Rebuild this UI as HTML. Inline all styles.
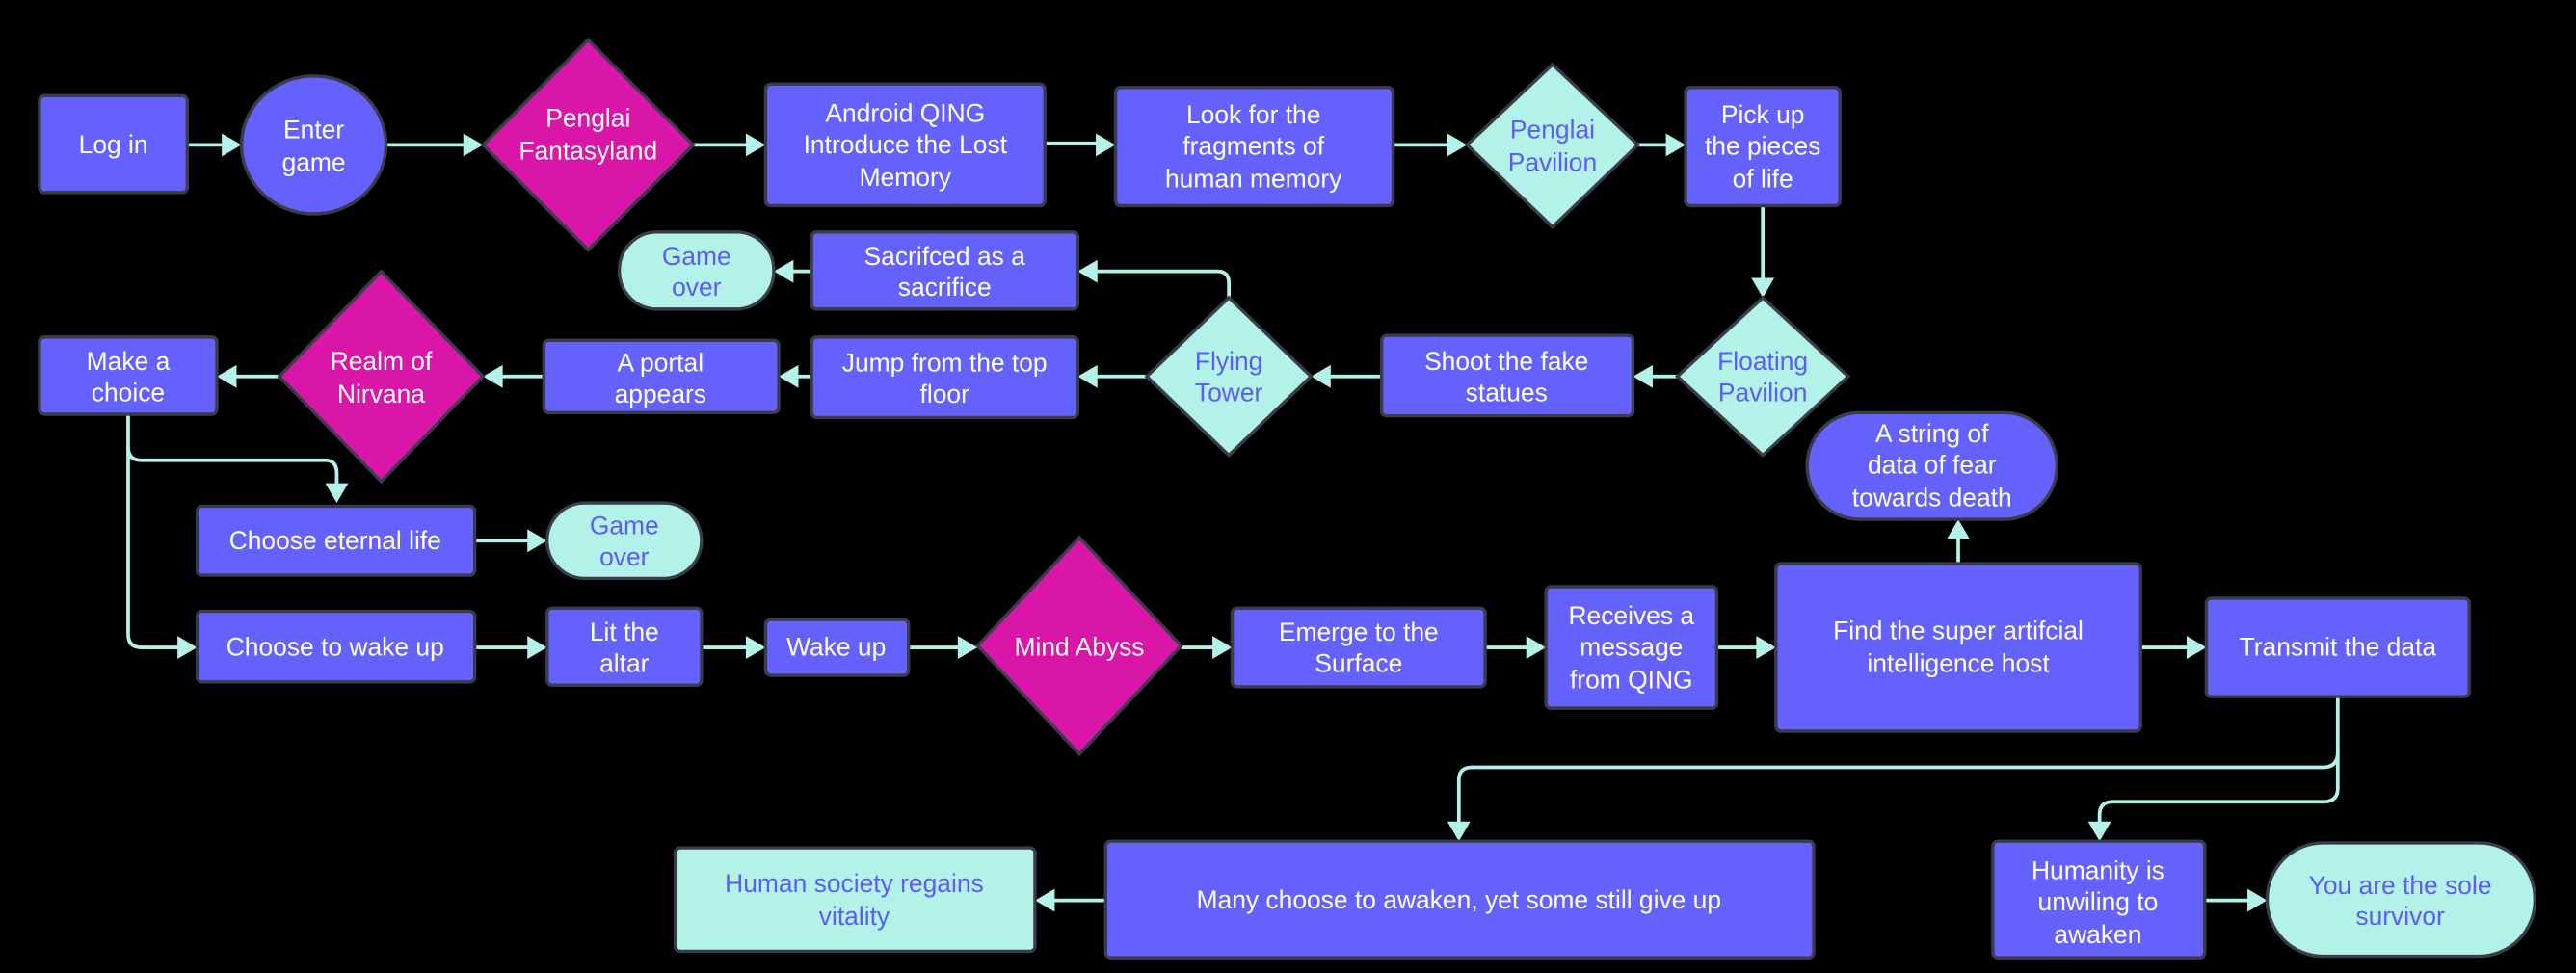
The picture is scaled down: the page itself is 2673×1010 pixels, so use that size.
<!DOCTYPE html>
<html><head><meta charset="utf-8"><style>
html,body{margin:0;padding:0;background:#000;width:2673px;height:1010px;overflow:hidden}
svg{display:block}
text{font-family:"Liberation Sans",sans-serif;font-size:15.5px;text-anchor:middle}
.w{fill:#fff}.b{fill:#5f5cf5}
.p{fill:#6461fc;stroke:#3a3c4a;stroke-width:2}
.m{fill:#d916a8;stroke:#3a3c4a;stroke-width:2}
.g{fill:#b3f2e8;stroke:#3a3c4a;stroke-width:2}
.e{stroke:#b3f2e8;stroke-width:2.2;fill:none}
.a{fill:#b3f2e8}
</style></head><body>
<svg width="2673" height="1010" viewBox="0 0 1568 592" xmlns="http://www.w3.org/2000/svg">
<rect width="1568" height="592" fill="#000"/>
<!-- edges -->
<g class="e">
<path d="M114,88H136"/><path d="M235,88H283"/><path d="M422,88H455"/><path d="M636,87H668"/>
<path d="M848,88H882"/><path d="M997,88H1015"/><path d="M1073,125V170"/>
<path d="M1021,229H1005"/><path d="M841,229H809"/><path d="M698,229H667"/>
<path d="M748,181V172Q748,165 741,165H667"/>
<path d="M494,165H482"/><path d="M494,229H485"/><path d="M331,229H305"/><path d="M170,229H143"/>
<path d="M78,252V272Q78,280 86,280H198Q205,280 205,288V295"/>
<path d="M78,272V386Q78,394 86,394H109"/>
<path d="M289,329H322"/><path d="M289,394H322"/><path d="M427,394H455"/><path d="M553,394H584"/>
<path d="M719,394H739"/><path d="M904,394H930"/><path d="M1045,394H1070"/>
<path d="M1192,343V327"/><path d="M1303,394H1332"/>
<path d="M1423,424V458Q1423,467 1414,467H896Q888,467 888,475V501"/>
<path d="M1423,458V480Q1423,488 1414,488H1286Q1278,488 1278,496V501"/>
<path d="M673,548H641"/><path d="M1342,548H1369"/>
</g>
<g class="a">
<path d="M147,88l-12,-7v14z"/><path d="M294,88l-12,-7v14z"/><path d="M466,88l-12,-7v14z"/><path d="M679,88l-12,-7v14z"/>
<path d="M893,88l-12,-7v14z"/><path d="M1026,88l-12,-7v14z"/><path d="M1073,181l-7,-12h14z"/>
<path d="M994,229l12,-7v14z"/><path d="M798,229l12,-7v14z"/><path d="M656,229l12,-7v14z"/>
<path d="M656,165l12,-7v14z"/><path d="M471,165l12,-7v14z"/><path d="M474,229l12,-7v14z"/>
<path d="M294,229l12,-7v14z"/><path d="M132,229l12,-7v14z"/>
<path d="M205,306l-7,-12h14z"/><path d="M120,394l-12,-7v14z"/>
<path d="M333,329l-12,-7v14z"/><path d="M333,394l-12,-7v14z"/><path d="M466,394l-12,-7v14z"/>
<path d="M595,394l-12,-7v14z"/><path d="M750,394l-12,-7v14z"/><path d="M941,394l-12,-7v14z"/>
<path d="M1081,394l-12,-7v14z"/><path d="M1192,316l-7,12h14z"/><path d="M1343,394l-12,-7v14z"/>
<path d="M888,512l-7,-12h14z"/><path d="M1278,512l-7,-12h14z"/>
<path d="M630,548l12,-7v14z"/><path d="M1380,548l-12,-7v14z"/>
</g>
<!-- nodes -->
<rect class="p" x="24" y="58" width="90" height="59" rx="3"/><text class="w" x="69" y="93">Log in</text>
<ellipse class="p" cx="191" cy="88" rx="44" ry="42"/><text class="w" x="191" y="84">Enter</text><text class="w" x="191" y="104">game</text>
<path class="m" d="M358,24L422,88L358,152L294,88Z"/><text class="w" x="358" y="77">Penglai</text><text class="w" x="358" y="97">Fantasyland</text>
<rect class="p" x="466" y="51" width="170" height="74" rx="3"/><text class="w" x="551" y="74">Android QING</text><text class="w" x="551" y="93">Introduce the Lost</text><text class="w" x="551" y="113">Memory</text>
<rect class="p" x="679" y="53" width="169" height="72" rx="3"/><text class="w" x="763" y="75">Look for the</text><text class="w" x="763" y="94">fragments of</text><text class="w" x="763" y="114">human memory</text>
<path class="g" d="M945,39L997,88L945,138L893,88Z"/><text class="b" x="945" y="84">Penglai</text><text class="b" x="945" y="104">Pavilion</text>
<rect class="p" x="1026" y="53" width="94" height="72" rx="3"/><text class="w" x="1073" y="75">Pick up</text><text class="w" x="1073" y="94">the pieces</text><text class="w" x="1073" y="114">of life</text>
<path class="g" d="M1073,181L1125,229L1073,277L1021,229Z"/><text class="b" x="1073" y="225">Floating</text><text class="b" x="1073" y="244">Pavilion</text>
<rect class="p" x="841" y="204" width="153" height="49" rx="3"/><text class="w" x="917" y="225">Shoot the fake</text><text class="w" x="917" y="244">statues</text>
<path class="g" d="M748,181L798,229L748,277L698,229Z"/><text class="b" x="748" y="225">Flying</text><text class="b" x="748" y="244">Tower</text>
<rect class="p" x="494" y="141" width="162" height="47" rx="3"/><text class="w" x="575" y="161">Sacrifced as a</text><text class="w" x="575" y="180">sacrifice</text>
<rect class="g" x="377" y="141" width="94" height="47" rx="23"/><text class="b" x="424" y="161">Game</text><text class="b" x="424" y="180">over</text>
<rect class="p" x="494" y="205" width="162" height="49" rx="3"/><text class="w" x="575" y="226">Jump from the top</text><text class="w" x="575" y="245">floor</text>
<rect class="p" x="331" y="207" width="143" height="44" rx="3"/><text class="w" x="402" y="226">A portal</text><text class="w" x="402" y="245">appears</text>
<path class="m" d="M232,165L294,229L232,293L170,229Z"/><text class="w" x="232" y="225">Realm of</text><text class="w" x="232" y="245">Nirvana</text>
<rect class="p" x="24" y="205" width="108" height="47" rx="3"/><text class="w" x="78" y="225">Make a</text><text class="w" x="78" y="244">choice</text>
<rect class="p" x="120" y="308" width="169" height="42" rx="3"/><text class="w" x="204" y="334">Choose eternal life</text>
<rect class="g" x="333" y="306" width="94" height="46" rx="23"/><text class="b" x="380" y="325">Game</text><text class="b" x="380" y="344">over</text>
<rect class="p" x="120" y="372" width="169" height="43" rx="3"/><text class="w" x="204" y="399">Choose to wake up</text>
<rect class="p" x="333" y="370" width="94" height="47" rx="3"/><text class="w" x="380" y="390">Lit the</text><text class="w" x="380" y="409">altar</text>
<rect class="p" x="466" y="377" width="87" height="34" rx="3"/><text class="w" x="509" y="399">Wake up</text>
<path class="m" d="M657,327L719,393L657,459L595,393Z"/><text class="w" x="657" y="399">Mind Abyss</text>
<rect class="p" x="750" y="370" width="154" height="48" rx="3"/><text class="w" x="827" y="390">Emerge to the</text><text class="w" x="827" y="409">Surface</text>
<rect class="p" x="941" y="357" width="104" height="74" rx="3"/><text class="w" x="993" y="380">Receives a</text><text class="w" x="993" y="399">message</text><text class="w" x="993" y="419">from QING</text>
<rect class="p" x="1081" y="343" width="222" height="102" rx="3"/><text class="w" x="1192" y="389">Find the super artifcial</text><text class="w" x="1192" y="409">intelligence host</text>
<rect class="p" x="1100" y="251" width="152" height="65" rx="32"/><text class="w" x="1176" y="269">A string of</text><text class="w" x="1176" y="288">data of fear</text><text class="w" x="1176" y="308">towards death</text>
<rect class="p" x="1343" y="364" width="160" height="60" rx="3"/><text class="w" x="1423" y="399">Transmit the data</text>
<rect class="p" x="673" y="512" width="431" height="71" rx="3"/><text class="w" x="888" y="553">Many choose to awaken, yet some still give up</text>
<rect class="g" x="411" y="516" width="219" height="63" rx="3"/><text class="b" x="520" y="543">Human society regains</text><text class="b" x="520" y="563">vitality</text>
<rect class="p" x="1213" y="512" width="129" height="71" rx="3"/><text class="w" x="1277" y="535">Humanity is</text><text class="w" x="1277" y="554">unwiling to</text><text class="w" x="1277" y="574">awaken</text>
<rect class="g" x="1380" y="513" width="163" height="69" rx="34"/><text class="b" x="1461" y="544">You are the sole</text><text class="b" x="1461" y="563">survivor</text>
</svg>
</body></html>
